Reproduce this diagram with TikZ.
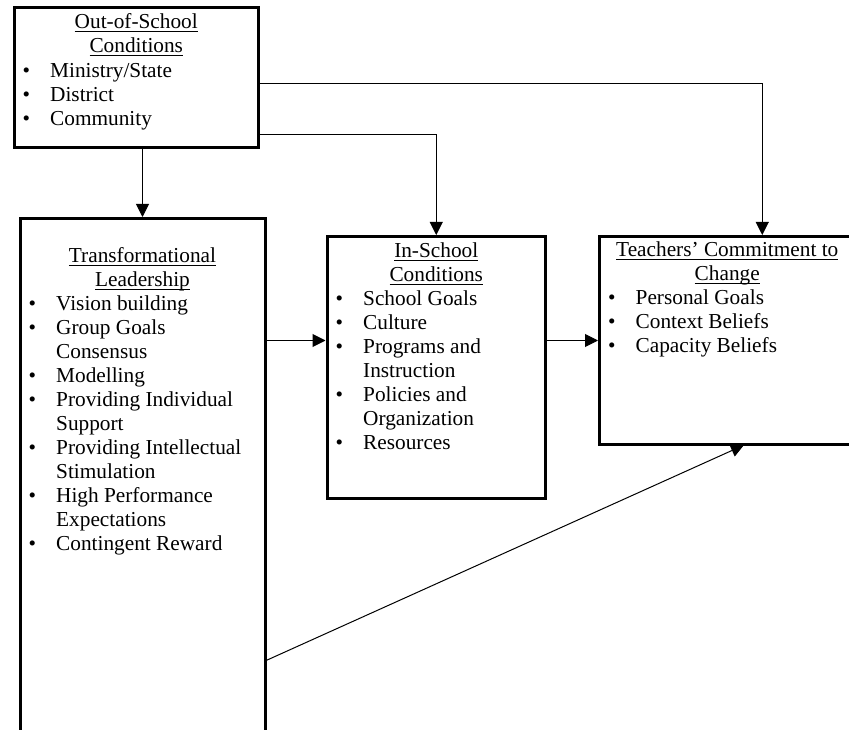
\documentclass[tikz,border=0pt]{standalone}
\usepackage{fontspec}
\setmainfont{Liberation Serif}
\usetikzlibrary{arrows.meta}

\newcommand{\lbl}{\fontsize{21.3}{24}\selectfont}
\newcommand{\undl}[1]{\leavevmode\setbox0\hbox{#1}\rlap{\rule[-3.2pt]{\wd0}{1.1pt}}\box0}

\begin{document}
\begin{tikzpicture}[x=1pt, y=-1pt,
  frame/.style={draw, line width=3pt, inner sep=0pt, outer sep=0pt, anchor=north west},
  head/.style={anchor=north, inner sep=0pt, font=\lbl},
  items/.style={anchor=north west, inner sep=0pt, font=\lbl},
  link/.style={line width=1pt, shorten >=1.5pt, -{Triangle[length=13pt, width=13pt]}}]

\useasboundingbox (0,0) rectangle (849,730);

% boxes
\node[frame, minimum width=244.5pt, minimum height=140pt] (oos) at (14,7.5) {};
\node[frame, minimum width=245pt, minimum height=521.5pt] (tl) at (20,218.5) {};
\node[frame, minimum width=218.5pt, minimum height=262pt] (is) at (327,236.5) {};
\node[frame, minimum width=255.5pt, minimum height=208pt] (tc) at (599.5,236.5) {};

% texts
\node[head] (oosT) at ([yshift=-4.5pt]oos.north)
  {\begin{tabular}{@{}c@{}}\undl{Out-of-School}\\ \undl{Conditions}\end{tabular}};
\node[items, xshift=8.5pt] (oosL) at (oos.west |- oosT.south)
  {\begin{tabular}{@{}p{27.5pt}@{}l@{}}
   \textbullet & Ministry/State\\
   \textbullet & District\\
   \textbullet & Community
   \end{tabular}};

\node[head] (tlT) at ([yshift=-27pt]tl.north)
  {\begin{tabular}{@{}c@{}}\undl{Transformational}\\ \undl{Leadership}\end{tabular}};
\node[items, xshift=8.5pt] (tlL) at (tl.west |- tlT.south)
  {\begin{tabular}{@{}p{27.5pt}@{}l@{}}
   \textbullet & Vision building\\
   \textbullet & Group Goals\\
               & Consensus\\
   \textbullet & Modelling\\
   \textbullet & Providing Individual\\
               & Support\\
   \textbullet & Providing Intellectual\\
               & Stimulation\\
   \textbullet & High Performance\\
               & Expectations\\
   \textbullet & Contingent Reward
   \end{tabular}};

\node[head] (isT) at ([yshift=-4pt]is.north)
  {\begin{tabular}{@{}c@{}}\undl{In-School}\\ \undl{Conditions}\end{tabular}};
\node[items, xshift=8.5pt] (isL) at (is.west |- isT.south)
  {\begin{tabular}{@{}p{27.5pt}@{}l@{}}
   \textbullet & School Goals\\
   \textbullet & Culture\\
   \textbullet & Programs and\\
               & Instruction\\
   \textbullet & Policies and\\
               & Organization\\
   \textbullet & Resources
   \end{tabular}};

\node[head] (tcT) at ([yshift=-3pt]tc.north)
  {\begin{tabular}{@{}c@{}}\undl{Teachers’ Commitment to}\\ \undl{Change}\end{tabular}};
\node[items, xshift=8.5pt] (tcL) at (tc.west |- tcT.south)
  {\begin{tabular}{@{}p{27.5pt}@{}l@{}}
   \textbullet & Personal Goals\\
   \textbullet & Context Beliefs\\
   \textbullet & Capacity Beliefs
   \end{tabular}};

% arrows
\draw[link] (oos.south -| tl.north) -- (tl.north);
\draw[link] ([yshift=12.5pt]oos.south east) -| (is.north);
\draw[link] ([yshift=-76.5pt]oos.north east) -| ([xshift=35pt]tc.north);
\draw[link] (tl.east |- tc.west) -- (is.west |- tc.west);
\draw[link] (is.east |- tc.west) -- (tc.west);
\draw[link] ([yshift=79pt]tl.south east) -- ([xshift=18pt]tc.south);

\end{tikzpicture}
\end{document}
